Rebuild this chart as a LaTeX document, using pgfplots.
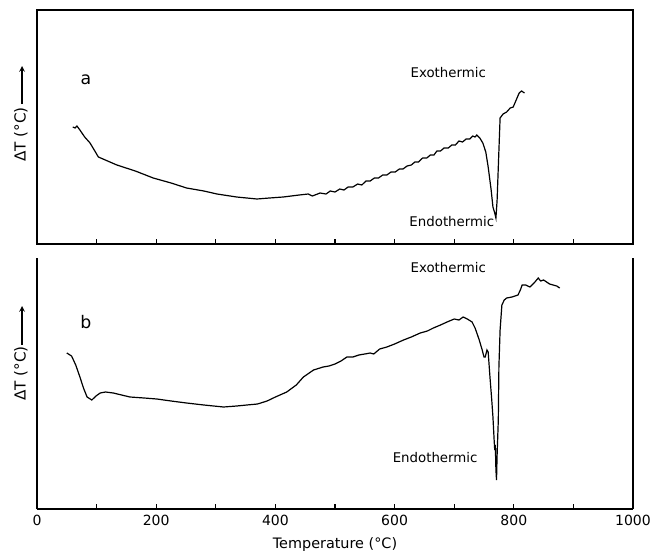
\documentclass[border=0pt]{standalone}
\usepackage{fontspec}
\setmainfont{DejaVu Sans}
\usepackage{pgfplots}
\pgfplotsset{compat=1.18}
\begin{document}
\begin{tikzpicture}
\path[use as bounding box] (0,0) rectangle (489.75pt,-414.75pt);
\pgfplotsset{dta/.style={
  scale only axis, width=447pt, xmin=0, xmax=1000, clip=false,
  ytick=\empty, tick align=inside, xtick pos=lower,
  major tick length=4pt,
  axis line style={line width=1pt},
  every tick/.style={black, line width=0.9pt},
  /pgf/number format/assume math mode=true,
}}
% ---------- panel a ----------
\begin{axis}[dta, at={(27.75pt,-183pt)}, anchor=south west, height=175.5pt,
  ymin=-244, ymax=-10, xtick={100,200,...,900}, xticklabels={}]
\addplot[black, line width=0.9pt] coordinates {
(60,-127)(64,-128)(67,-126)(72,-130)(80,-137)(89,-143)(103,-157)(134,-165)
(165,-171)(195,-178)(225,-183)(251,-188)(280,-191)(302,-194)(335,-197)
(369,-199)(390,-198)(413,-197)(440,-195)(455,-194)(462,-196)(475,-193)
(485,-194)(492,-191)(500,-192)(508,-189)(515,-190)(522,-187)(530,-187)
(538,-184)(545,-185)(552,-181)(559,-181)(566,-178)(573,-178)(580,-175)
(587,-175)(594,-172)(601,-172)(608,-169)(614,-169)(621,-166)(628,-165)
(634,-162)(640,-162)(647,-158)(654,-158)(660,-155)(666,-155)(671,-151)
(677,-151)(683,-148)(690,-148)(696,-145)(702,-145)(708,-141)(714,-142)
(720,-139)(726,-139)(731,-136)(735,-137)(738,-135)(743,-138)(748,-143)
(753,-152)(757,-167)(762,-190)(765,-207)(768,-213)(770,-218)(772,-200)
(774,-167)(777,-118)(782,-114)(788,-112)(794,-108)(799,-107)(804,-100)
(809,-93)(813,-91)(818,-93)};
\node[font=\fontsize{13}{15}\selectfont] at (axis cs:82,-80) {a};
\node[font=\fontsize{10}{12}\selectfont] at (axis cs:690,-73) {Exothermic};
\node[font=\fontsize{10}{12}\selectfont] at (axis cs:696,-222) {Endothermic};
\node[rotate=90, font=\fontsize{11.4}{13}\selectfont] at (axis cs:-27,-134.5) {ΔT (°C)};
\draw[-stealth, line width=0.9pt] (axis cs:-25,-104) -- (axis cs:-25,-66);
\end{axis}
% ---------- panel b ----------
\begin{axis}[dta, at={(27.75pt,-381.75pt)}, anchor=south west, height=188.25pt,
  ymin=-509, ymax=-258, axis x line*=bottom, axis y line*=box,
  xtick={0,100,...,1000}, xticklabels={0,,200,,400,,600,,800,,1000},
  xticklabel style={font=\fontsize{10.5}{12}\selectfont, yshift=-1pt}]
\addplot[black, line width=0.9pt] coordinates {
(50,-353)(58,-356)(65,-365)(72,-377)(78,-388)(84,-397)(92,-400)(99,-396)
(106,-393)(115,-392)(128,-393)(142,-395)(156,-397)(180,-398)(201,-399)
(225,-401)(251,-403)(280,-405)(313,-407)(335,-406)(352,-405)(370,-404)
(386,-401)(400,-397)(419,-392)(435,-385)(447,-377)(464,-370)(480,-367)
(490,-366)(500,-364)(510,-361)(520,-357)(530,-357)(540,-355)(550,-354)
(559,-353)(565,-354)(575,-349)(587,-347)(600,-344)(615,-340)(628,-337)
(643,-333)(655,-331)(665,-328)(677,-325)(688,-322)(700,-319)(708,-320)
(715,-317)(722,-319)(730,-322)(735,-328)(738,-333)(742,-340)(747,-350)
(750,-357)(752,-357)(755,-350)(757,-352)(760,-377)(763,-400)(765,-417)
(767,-440)(768,-450)(769,-445)(770,-470)(771,-480)(772,-455)(774,-420)
(775,-367)(777,-330)(780,-305)(784,-300)(788,-298)(797,-297)(807,-295)
(811,-290)(814,-285)(820,-285)(827,-287)(834,-283)(841,-278)(845,-281)
(850,-280)(855,-282)(860,-284)(866,-285)(872,-286)(877,-288)};
\node[font=\fontsize{13}{15}\selectfont] at (axis cs:82,-322) {b};
\node[font=\fontsize{10}{12}\selectfont] at (axis cs:690,-268) {Exothermic};
\node[font=\fontsize{10}{12}\selectfont] at (axis cs:668,-458) {Endothermic};
\node[rotate=90, font=\fontsize{11.4}{13}\selectfont] at (axis cs:-27,-373.5) {ΔT (°C)};
\draw[-stealth, line width=0.9pt] (axis cs:-25,-345) -- (axis cs:-25,-306);
\node[font=\fontsize{10.8}{13}\selectfont] at (axis cs:500,-545) {Temperature (°C)};
\end{axis}
\end{tikzpicture}
\end{document}
